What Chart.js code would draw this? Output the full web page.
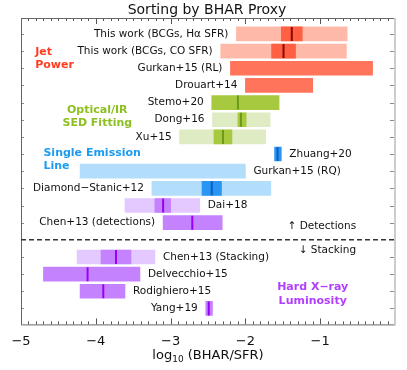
<!DOCTYPE html>
<html lang="en">
<head>
    <meta charset="UTF-8">
    <title>Sorting by BHAR Proxy</title>
    <script src="https://cdn.jsdelivr.net/npm/chart.js"></script>
    <style>
        body { margin: 0; background: #fff; }
    </style>
</head>
<body>
    <canvas id="grafico" width="407" height="370"></canvas>

    <script>
        // Studies, one row each (row 13 is the detections / stacking divider)
        const studies = ['This work (BCGs, H\u03b1 SFR)', 'This work (BCGs, CO SFR)', 'Gurkan+15 (RL)', 'Drouart+14',
            'Stemo+20', 'Dong+16', 'Xu+15', 'Zhuang+20', 'Gurkan+15 (RQ)', 'Diamond\u2212Stanic+12', 'Dai+18',
            'Chen+13 (detections)', 'Chen+13 (Stacking)', 'Delvecchio+15', 'Rodighiero+15', 'Yang+19'];
        const rowPos = [1, 2, 3, 4, 5, 6, 7, 8, 9, 10, 11, 12, 14, 15, 16, 17];
        const labelSide = ['L', 'L', 'L', 'L', 'L', 'L', 'L', 'R', 'R', 'L', 'R', 'L', 'R', 'R', 'R', 'L'];
        const group = ['jet', 'jet', 'jet', 'jet', 'sed', 'sed', 'sed', 'line', 'line', 'line', 'xray', 'xray',
            'xray', 'xray', 'xray', 'xray'];

        // log10(BHAR/SFR): full range, inner range and median
        const outerLo = [-2.12, -2.33, -2.20, -2.00, -2.45, -2.44, -2.88, -1.61, -4.21, -3.25, -3.61, -3.10, -4.25, -4.70, -4.21, -2.53];
        const outerHi = [-0.64, -0.65, -0.30, -1.10, -1.55, -1.67, -1.73, -1.52, -2.00, -1.66, -2.61, -2.31, -3.21, -3.41, -3.61, -2.44];
        const innerLo = [-1.52, -1.65, null, null, null, -2.10, -2.42, null, null, -2.58, -3.21, null, -3.93, null, null, null];
        const innerHi = [-1.24, -1.33, null, null, null, -1.99, -2.18, null, null, -2.32, -3.00, null, -3.53, null, null, null];
        const median = [-1.38, -1.49, null, null, -2.10, -2.06, -2.30, -1.57, null, -2.45, -3.10, -2.71, -3.73, -4.11, -3.90, -2.49];

        const xTicks = [-5, -4, -3, -2, -1];

        // colours
        const outerColor = ['#ffb9a9', '#ffb9a9', '#ff745a', '#ff745a', '#a7c93f', '#deebc3', '#deebc3', '#2b95f2',
            '#b2defb', '#b2defb', '#e3c9ff', '#c582ff', '#e3c9ff', '#c582ff', '#c582ff', '#c582ff'];
        const innerColor = { jet: '#ff5f42', sed: '#a7c93f', line: '#2b95f2', xray: '#c582ff' };
        const medianColor = { jet: '#8b0a00', sed: '#6a9a18', line: '#0b5ec6', xray: '#9a00f5' };
        const groupColor = { jet: '#ff3d1f', sed: '#8dbf22', line: '#1c9bf0', xray: '#b23eff' };

        const groupNotes = [
            { lines: ['Jet', 'Power'], x: -4.81, y: 2.05, align: 'left', g: 'jet' },
            { lines: ['Optical/IR', 'SED Fitting'], x: -3.98, y: 5.42, align: 'center', g: 'sed' },
            { lines: ['Single Emission', 'Line'], x: -4.70, y: 7.92, align: 'left', g: 'line' },
            { lines: ['Hard X\u2212ray', 'Luminosity'], x: -1.10, y: 15.78, align: 'center', g: 'xray' }
        ];

        const FONT = '"DejaVu Sans", sans-serif';

        const outerData = [], innerData = [], innerCols = [], medData = [], medCols = [];
        studies.forEach((s, i) => {
            outerData.push({ x: [outerLo[i], outerHi[i]], y: rowPos[i] });
            if (innerLo[i] !== null) {
                innerData.push({ x: [innerLo[i], innerHi[i]], y: rowPos[i] });
                innerCols.push(innerColor[group[i]]);
            }
            if (median[i] !== null) {
                medData.push({ x: median[i], y: rowPos[i] });
                medCols.push(medianColor[group[i]]);
            }
        });

        // frame, inward ticks, divider, text labels
        const decor = {
            id: 'decor',
            afterDatasetsDraw(chart) {
                const c = chart.ctx, a = chart.chartArea;
                const xs = chart.scales.x, ys = chart.scales.y;
                c.save();

                // minor / major ticks on top and bottom
                c.strokeStyle = '#555';
                c.lineWidth = 1;
                for (let k = -50; k <= 0; k++) {
                    const px = Math.round(xs.getPixelForValue(k / 10)) + 0.5;
                    const len = (k % 10 === 0) ? 6 : 3;
                    c.beginPath();
                    c.moveTo(px, a.bottom); c.lineTo(px, a.bottom - len);
                    c.moveTo(px, a.top); c.lineTo(px, a.top + len);
                    c.stroke();
                }
                // row ticks left and right
                c.strokeStyle = '#888';
                rowPos.forEach(r => {
                    const py = Math.round(ys.getPixelForValue(r)) + 0.5;
                    c.beginPath();
                    c.moveTo(a.left, py); c.lineTo(a.left + 3, py);
                    c.moveTo(a.right - 5, py); c.lineTo(a.right, py);
                    c.stroke();
                });

                // frame
                c.strokeStyle = '#666';
                c.beginPath();
                c.moveTo(a.left + 0.5, a.bottom); c.lineTo(a.left + 0.5, a.top + 0.5); c.lineTo(a.right, a.top + 0.5);
                c.moveTo(a.left, a.bottom + 0.5); c.lineTo(a.right, a.bottom + 0.5);
                c.stroke();
                c.strokeStyle = '#ccc';
                c.lineWidth = 2;
                c.beginPath();
                c.moveTo(a.right, a.top); c.lineTo(a.right, a.bottom + 1);
                c.stroke();

                // detections / stacking divider
                c.strokeStyle = '#333';
                c.lineWidth = 1.5;
                c.setLineDash([5, 3]);
                const dy = ys.getPixelForValue(13);
                c.beginPath();
                c.moveTo(a.left, dy); c.lineTo(a.right, dy);
                c.stroke();
                c.setLineDash([]);

                // study labels
                c.font = '10.5px ' + FONT;
                c.fillStyle = '#111';
                c.textBaseline = 'middle';
                studies.forEach((s, i) => {
                    const py = ys.getPixelForValue(rowPos[i]);
                    if (labelSide[i] === 'L') {
                        c.textAlign = 'right';
                        c.fillText(s, xs.getPixelForValue(outerLo[i]) - 8, py);
                    } else {
                        c.textAlign = 'left';
                        c.fillText(s, xs.getPixelForValue(outerHi[i]) + 8, py);
                    }
                });

                // method names
                c.font = 'bold 11px ' + FONT;
                groupNotes.forEach(n => {
                    c.fillStyle = groupColor[n.g];
                    c.textAlign = n.align;
                    n.lines.forEach((t, j) => {
                        c.fillText(t, xs.getPixelForValue(n.x), ys.getPixelForValue(n.y) + j * 13.5);
                    });
                });

                c.fillStyle = '#111';
                c.font = '10.5px ' + FONT;
                c.textAlign = 'right';
                c.fillText('\u2191 Detections', xs.getPixelForValue(-0.52), ys.getPixelForValue(12.2));
                c.fillText('\u2193 Stacking', xs.getPixelForValue(-0.52), ys.getPixelForValue(13.6));

                // title and axis title
                c.textAlign = 'center';
                c.font = '14px ' + FONT;
                c.fillText('Sorting by BHAR Proxy', 207, 10);

                c.font = '13px ' + FONT;
                const t1 = 'log', t2 = '10', t3 = ' (BHAR/SFR)';
                const w1 = c.measureText(t1).width, w3 = c.measureText(t3).width;
                c.font = '9px ' + FONT;
                const w2 = c.measureText(t2).width;
                let x0 = (a.left + a.right) / 2 - (w1 + w2 + w3) / 2;
                const ty = 356;
                c.textAlign = 'left';
                c.font = '13px ' + FONT;
                c.fillText(t1, x0, ty);
                c.font = '9px ' + FONT;
                c.fillText(t2, x0 + w1, ty + 4);
                c.font = '13px ' + FONT;
                c.fillText(t3, x0 + w1 + w2, ty);
                c.restore();
            }
        };

        const ctx = document.getElementById('grafico').getContext('2d');
        const chart = new Chart(ctx, {
            type: 'bar',
            data: {
                datasets: [
                    {
                        type: 'scatter',
                        data: medData,
                        pointStyle: 'line',
                        pointRotation: 90,
                        pointRadius: 7,
                        pointBorderWidth: 2,
                        pointBorderColor: medCols,
                        order: 0
                    },
                    {
                        data: innerData,
                        backgroundColor: innerCols,
                        barThickness: 14,
                        grouped: false,
                        order: 1
                    },
                    {
                        data: outerData,
                        backgroundColor: outerColor,
                        barThickness: 14,
                        grouped: false,
                        order: 2
                    }
                ]
            },
            options: {
                indexAxis: 'y',
                responsive: false,
                animation: false,
                events: [],
                layout: { padding: { left: 21, right: 12, top: 18, bottom: 13 } },
                plugins: { legend: { display: false }, tooltip: { enabled: false } },
                scales: {
                    x: {
                        type: 'linear',
                        min: -5,
                        max: 0,
                        grid: { display: false, drawTicks: true, tickLength: 1 },
                        border: { display: false },
                        ticks: {
                            stepSize: 1,
                            padding: 8,
                            color: '#111',
                            font: { family: FONT, size: 13 },
                            callback: v => xTicks.includes(v) ? '\u2212' + Math.abs(v) : ''
                        }
                    },
                    y: {
                        type: 'linear',
                        display: false,
                        reverse: true,
                        offset: false,
                        min: 0.07,
                        max: 17.93
                    }
                }
            },
            plugins: [decor]
        });
    </script>
</body>
</html>
